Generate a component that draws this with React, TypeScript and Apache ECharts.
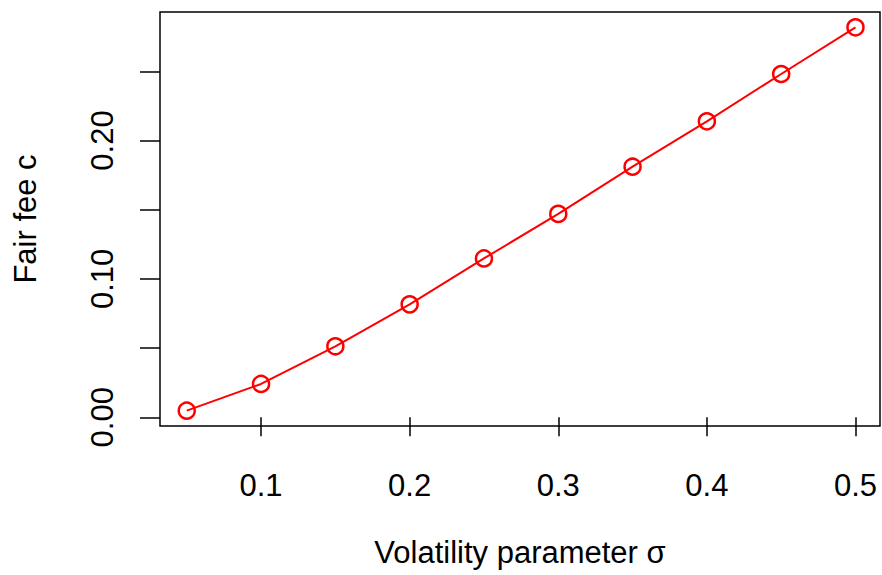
import React, { useEffect, useRef } from "react";
import * as echarts from "echarts";

const sigmaValues = [0.05, 0.1, 0.15, 0.2, 0.25, 0.3, 0.35, 0.4, 0.45, 0.5];
const feeValues = [0.0048, 0.0241, 0.0513, 0.0816, 0.1148, 0.147, 0.1811, 0.2139, 0.2481, 0.2818];
const xTicks = [0.1, 0.2, 0.3, 0.4, 0.5];
const yTicks = [0, 0.05, 0.1, 0.15, 0.2, 0.25];
const yLabels = [0, 0.1, 0.2];

const FONT = "'Liberation Sans', Arial, Helvetica, sans-serif";

export default function App() {
  const ref = useRef<HTMLDivElement>(null);
  useEffect(() => {
    if (!ref.current) return;
    const chart = echarts.init(ref.current, undefined, { renderer: "svg" });
    chart.setOption({
      animation: false,
      backgroundColor: "#ffffff",
      grid: {
        left: 160,
        top: 12,
        right: 2,
        bottom: 149,
        show: true,
        borderColor: "#000",
        borderWidth: 1.5,
        backgroundColor: "transparent",
      },
      xAxis: {
        type: "value",
        min: 0.032,
        max: 0.5165,
        axisLine: { show: false },
        splitLine: { show: false },
        axisTick: {
          show: true,
          inside: false,
          length: 19,
          customValues: xTicks,
          lineStyle: { color: "#000", width: 1.5 },
        },
        axisLabel: {
          customValues: xTicks,
          margin: 44,
          fontSize: 31,
          fontFamily: FONT,
          color: "#000",
          formatter: (v: number) => v.toFixed(1),
        },
        name: "Volatility parameter σ",
        nameLocation: "middle",
        nameGap: 111,
        nameTextStyle: { fontSize: 31, fontFamily: FONT, color: "#000" },
      },
      yAxis: {
        type: "value",
        min: -0.0063,
        max: 0.2929,
        axisLine: { show: false },
        splitLine: { show: false },
        axisTick: {
          show: true,
          inside: false,
          length: 20,
          customValues: yTicks,
          lineStyle: { color: "#000", width: 1.5 },
        },
        axisLabel: {
          customValues: yLabels,
          rotate: 90,
          margin: 42,
          fontSize: 31,
          fontFamily: FONT,
          color: "#000",
          formatter: (v: number) => v.toFixed(2),
        },
        name: "Fair fee c",
        nameLocation: "middle",
        nameRotate: 90,
        nameGap: 119,
        nameTextStyle: { fontSize: 31, fontFamily: FONT, color: "#000" },
      },
      series: [
        {
          type: "line",
          data: sigmaValues.map((s, i) => [s, feeValues[i]]),
          symbol: "circle",
          symbolSize: 16,
          showSymbol: true,
          lineStyle: { color: "#ff0000", width: 2 },
          itemStyle: { color: "rgba(0,0,0,0)", borderColor: "#ff0000", borderWidth: 2.5 },
          emphasis: { disabled: true },
        },
      ],
    });
    return () => chart.dispose();
  }, []);
  return (
    <div
      ref={ref}
      style={{ position: "fixed", left: 0, top: 0, width: 882, height: 575 }}
    />
  );
}
